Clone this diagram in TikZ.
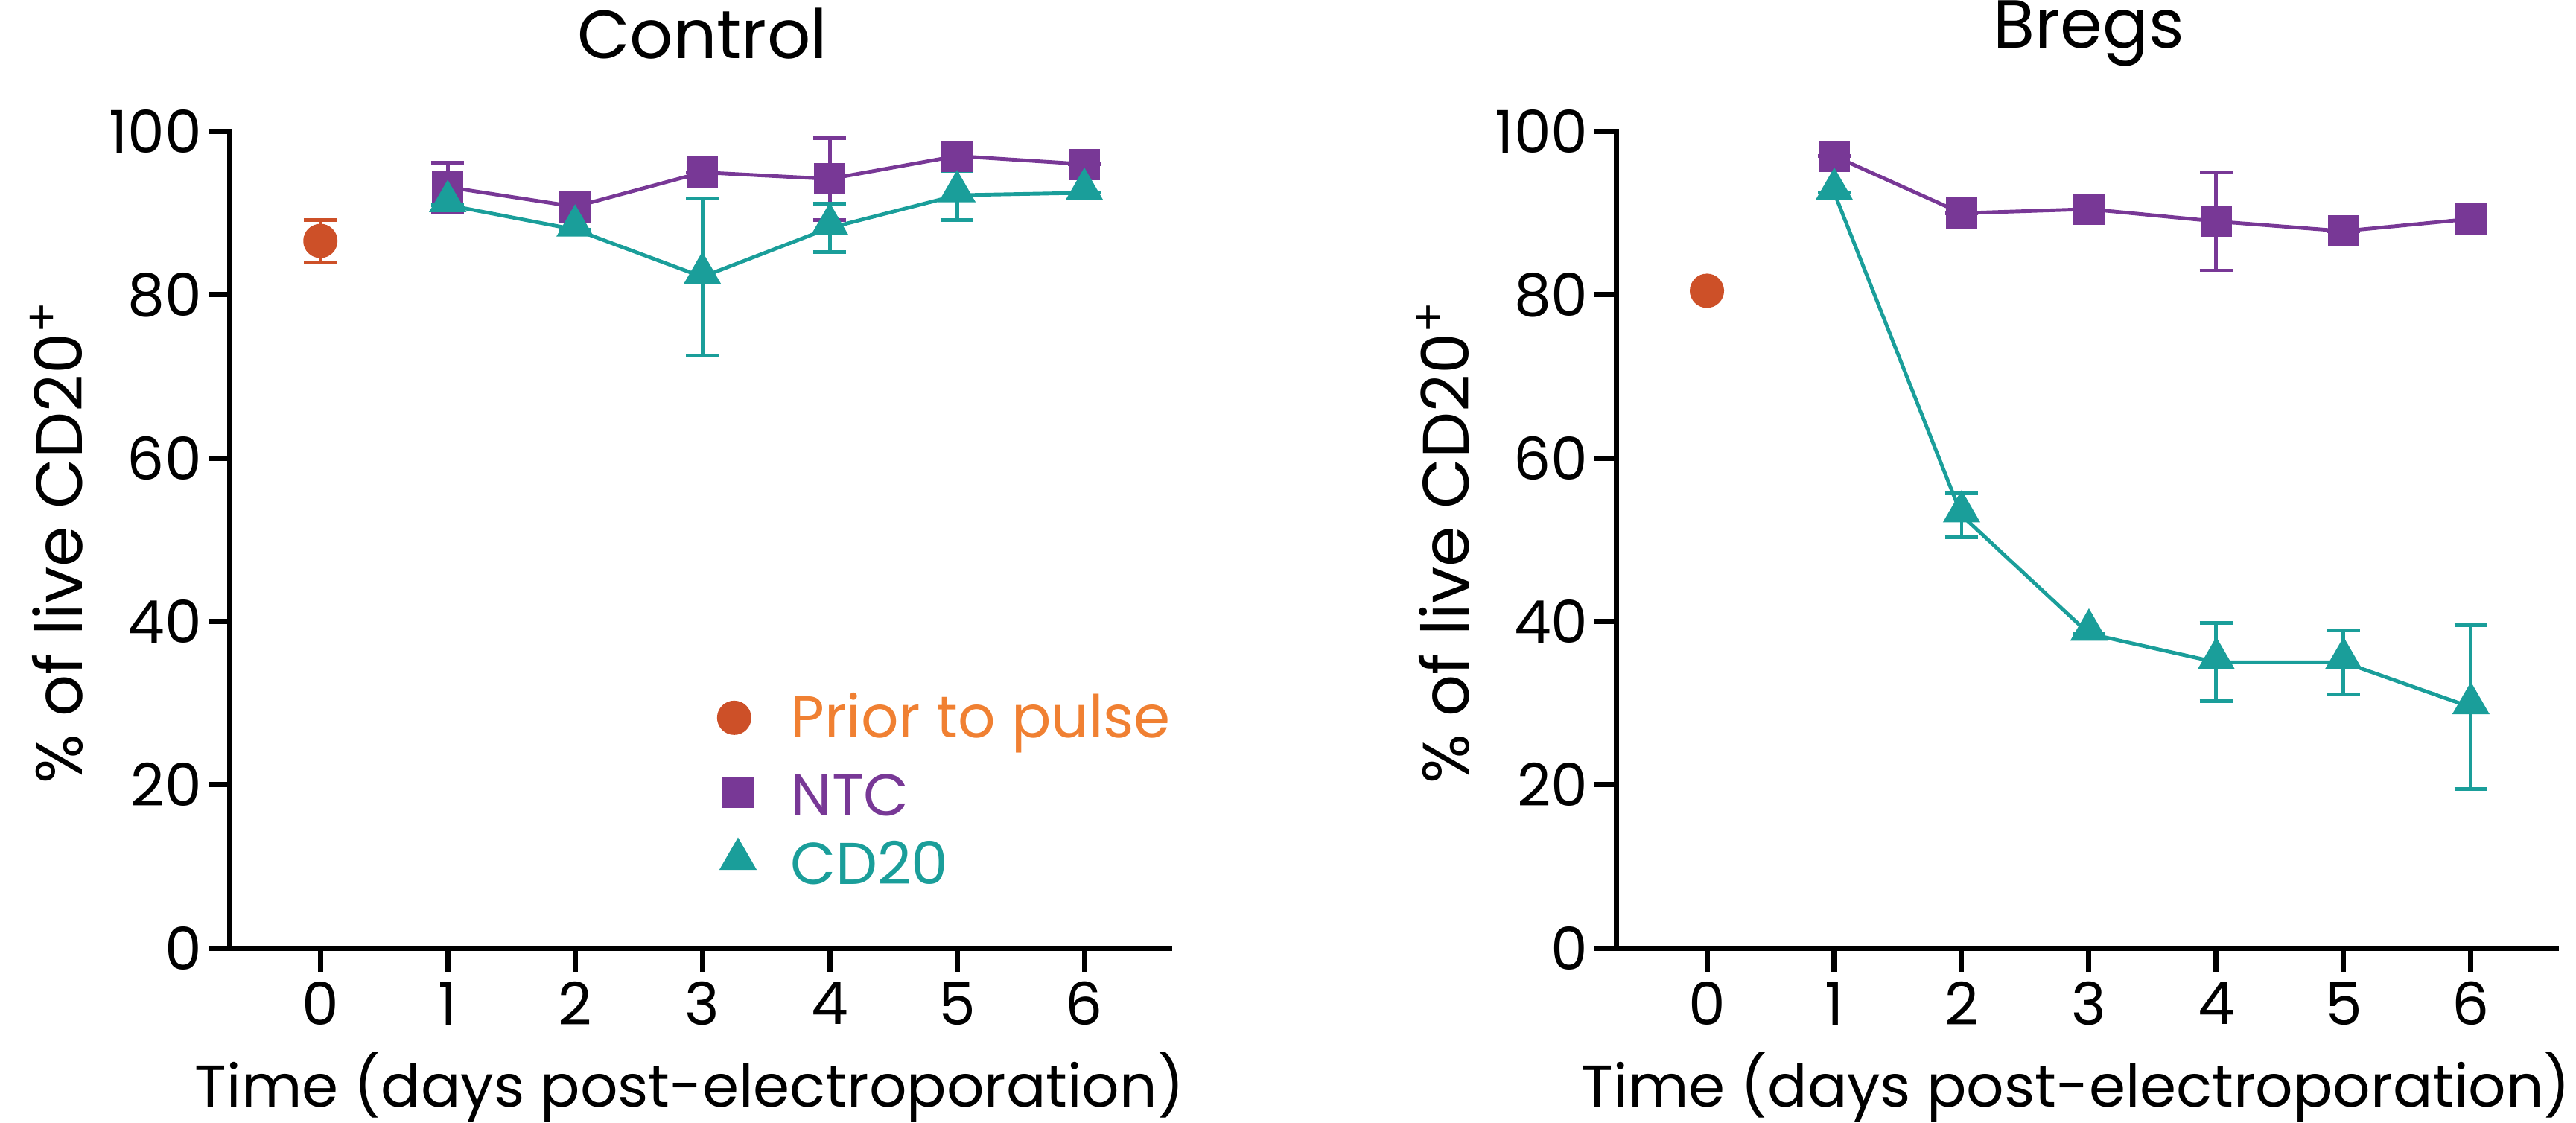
\documentclass[tikz,border=0pt]{standalone}
\usepackage{fontspec}
\setmainfont{Poppins}
\usetikzlibrary{shapes.geometric}
\definecolor{prior}{RGB}{205, 80, 40}
\definecolor{priortext}{RGB}{240, 128, 50}
\definecolor{ntc}{RGB}{120, 56, 150}
\definecolor{cdtwenty}{RGB}{26, 158, 154}
\tikzset{
	axis/.style={line width=2pt, line cap=rect},
	series/.style={line width=1.4pt},
	errbar/.style={line width=1.4pt},
	dotmark/.style={circle, fill=prior, inner sep=0, minimum size=0.46cm},
	sqmark/.style={rectangle, fill=ntc, inner sep=0, minimum size=0.42cm},
	trimark/.style={regular polygon, regular polygon sides=3, fill=cdtwenty, inner sep=0, minimum size=0.58cm},
	ticklab/.style={font=\fontsize{22.5}{26}\selectfont},
	ylab/.style={font=\fontsize{25}{29}\selectfont},
	titlelab/.style={font=\fontsize{26}{30}\selectfont}
}
% one panel: #1 prefix, #2 title, #3 NTC data, #4 CD20 data, #5 prior value/err
\newcommand{\panel}[5]{
	\draw[axis] (-0.71, 100) -- (-0.71, 0) -- (6.67, 0);
	\foreach \v in {0, 20, ..., 100}{
		\draw[axis] (-0.71, \v) -- (-0.86, \v);
		\node[ticklab, anchor=east] (#1y\v) at (-0.86, \v) {\v};
	}
	\foreach \d in {0, ..., 6}{
		\draw[axis] (\d, 0) -- (\d, -2.6);
		\node[ticklab] (#1x\d) at (\d, -6.8) {\d};
	}
	\node[ticklab] (#1xtitle) at (2.9, -17) {Time (days post-electroporation)};
	\node[ylab, rotate=90] (#1ytitle) at (-2.07, 49.7) {\% of live CD20\textsuperscript{+}};
	\node[titlelab] (#1title) at (3, 112) {#2};
	% error bars
	\foreach \d/\v/\e in {#3}{
		\draw[errbar, ntc] (\d, \v - \e) -- (\d, \v + \e)
			(\d - 0.13, \v + \e) -- (\d + 0.13, \v + \e)
			(\d - 0.13, \v - \e) -- (\d + 0.13, \v - \e);
	}
	\foreach \d/\v/\e in {#4}{
		\draw[errbar, cdtwenty] (\d, \v - \e) -- (\d, \v + \e)
			(\d - 0.13, \v + \e) -- (\d + 0.13, \v + \e)
			(\d - 0.13, \v - \e) -- (\d + 0.13, \v - \e);
	}
	\foreach \v/\e in {#5}{
		\draw[errbar, prior] (0, \v - \e) -- (0, \v + \e)
			(-0.13, \v + \e) -- (0.13, \v + \e)
			(-0.13, \v - \e) -- (0.13, \v - \e);
		\node[dotmark] (#1p0) at (0, \v) {};
	}
	% series
	\foreach \d/\v/\e in {#3}{
		\coordinate (#1n\d) at (\d, \v);
	}
	\foreach \d/\v/\e in {#4}{
		\coordinate (#1c\d) at (\d, \v);
	}
	\draw[series, ntc] (#1n1) -- (#1n2) -- (#1n3) -- (#1n4) -- (#1n5) -- (#1n6);
	\draw[series, cdtwenty] (#1c1) -- (#1c2) -- (#1c3) -- (#1c4) -- (#1c5) -- (#1c6);
	\foreach \d in {1, ..., 6}{
		\node[sqmark] at (#1n\d) {};
		\node[trimark] at ([yshift=0.05cm]#1c\d) {};
	}
}
\begin{document}
\begin{tikzpicture}
	\useasboundingbox (0, 0) rectangle (34.59, -15.07);

	% control
	\begin{scope}[shift={(4.302, -12.73)}, x=1.7097cm, y=0.10964cm]
		\panel{l}{Control}
			{1/93.2/3, 2/90.8/0, 3/95/0, 4/94.2/5, 5/97/0, 6/96/0}
			{1/91/0, 2/88/0, 3/82.2/9.6, 4/88.2/3, 5/92.2/3, 6/92.5/0}
			{86.6/2.6}
		% legend
		\node[dotmark] (legprior) at (3.25, 28.2) {};
		\node[sqmark] (legntc) at (3.28, 19.1) {};
		\node[trimark] (legcd) at (3.28, 10.9) {};
		\node[ticklab, anchor=west, text=priortext] at (3.62, 27.6) {Prior to pulse};
		\node[ticklab, anchor=west, text=ntc] at (3.62, 18.7) {NTC};
		\node[ticklab, anchor=west, text=cdtwenty] at (3.62, 10.4) {CD20};
	\end{scope}

	% bregs
	\begin{scope}[shift={(22.92, -12.73)}, x=1.7097cm, y=0.10964cm]
		\panel{r}{Bregs}
			{1/97/0, 2/90/0, 3/90.5/0, 4/89/6, 5/87.8/0, 6/89.3/0}
			{1/92.5/0, 2/53/2.7, 3/38.5/0, 4/35/4.8, 5/35/3.9, 6/29.5/10}
			{80.5/0}
	\end{scope}
\end{tikzpicture}
\end{document}
